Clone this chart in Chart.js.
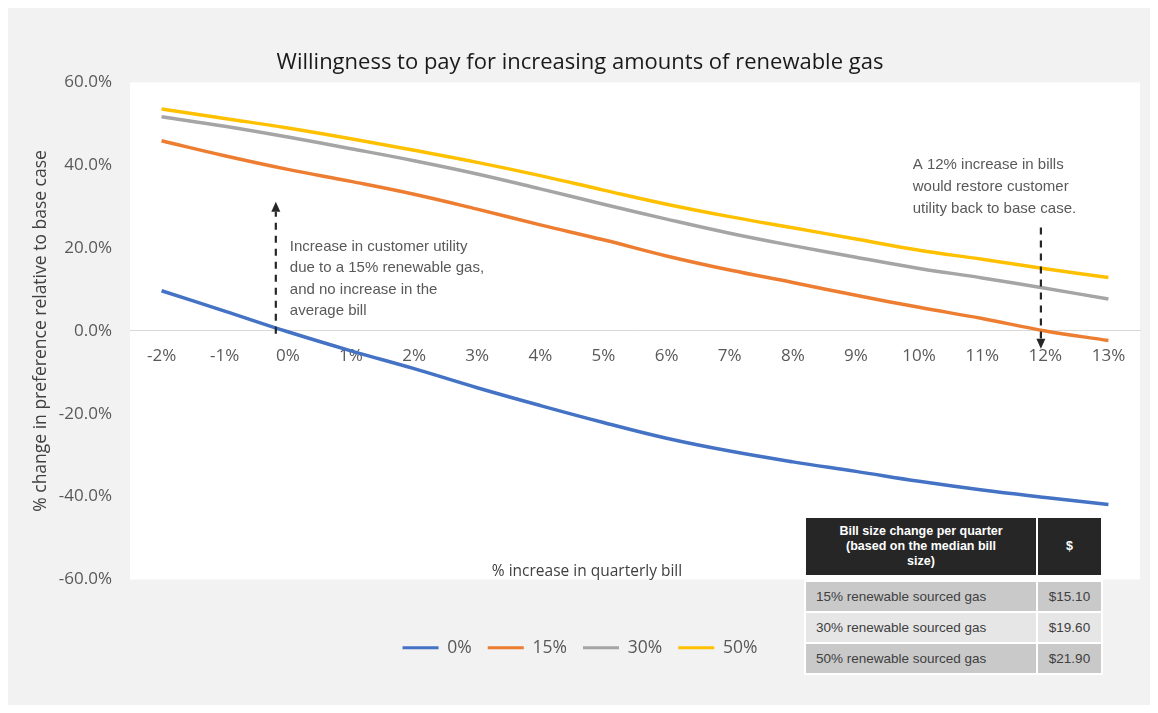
<!DOCTYPE html>
<html>
<head>
<meta charset="utf-8">
<title>Willingness to pay for renewable gas</title>
<script src="https://cdn.jsdelivr.net/npm/chart.js@4.4.1/dist/chart.umd.min.js"></script>
<style>
  html, body { margin: 0; padding: 0; background: #fff; }
  #wrap { position: relative; width: 1158px; height: 713px; }
  #chart { position: absolute; left: 0; top: 0; }
  #bill-table {
    position: absolute; left: 804px; top: 516px;
    border-collapse: separate; border-spacing: 2px; background: #fff;
    font-family: "Liberation Sans", Arial, sans-serif;
  }
  #bill-table th {
    background: #262626; color: #fff; font-weight: bold; font-size: 12.5px;
    line-height: 15px; text-align: center; height: 57px; padding: 0 8px;
  }
  #bill-table td {
    font-size: 13.5px; color: #404040; height: 29px; padding: 0;
  }
  #bill-table td.name { width: 220px; padding-left: 10px; }
  #bill-table td.cost { width: 63px; text-align: center; }
  #bill-table tr.first td { border-top: 5px solid #fff; }
  #bill-table tr.dark td { background: #c9c9c9; }
  #bill-table tr.light td { background: #e6e6e6; }
</style>
</head>
<body>
<div id="wrap">
  <canvas id="chart" width="1158" height="713"></canvas>
  <table id="bill-table">
    <thead>
      <tr><th>Bill size change per quarter<br>(based on the median bill<br>size)</th><th>$</th></tr>
    </thead>
    <tbody id="bill-rows"></tbody>
  </table>
</div>
<script>
// % increase in quarterly bill
const billIncrease = ['-2%', '-1%', '0%', '1%', '2%', '3%', '4%', '5%', '6%', '7%', '8%', '9%', '10%', '11%', '12%', '13%'];

// % change in preference relative to base case, one list per renewable share
const renew0  = [9.7, 4.8, -0.2, -4.8, -9.1, -13.7, -18.0, -22.1, -25.9, -29.0, -31.6, -33.9, -36.3, -38.4, -40.2, -41.9];
const renew15 = [45.9, 42.3, 39.0, 36.1, 33.0, 29.4, 25.6, 22.0, 18.1, 14.7, 11.7, 8.6, 5.7, 3.0, 0.0, -2.3];
const renew30 = [51.7, 49.4, 46.8, 44.0, 41.1, 37.9, 34.3, 30.6, 27.0, 23.6, 20.6, 17.8, 15.1, 12.8, 10.3, 7.7];
const renew50 = [53.6, 51.3, 49.0, 46.4, 43.6, 40.7, 37.5, 34.0, 30.6, 27.6, 24.9, 22.2, 19.5, 17.3, 15.0, 12.9];

const seriesNames = ['0%', '15%', '30%', '50%'];
const seriesColors = ['#4472c4', '#ed7d31', '#a5a5a5', '#ffc000'];

const yMin = -60;
const yMax = 60;
const yStep = 20;

// side table: bill change per quarter
const tableRows = ['15% renewable sourced gas', '30% renewable sourced gas', '50% renewable sourced gas'];
const tableCosts = ['$15.10', '$19.60', '$21.90'];

// call-outs: arrow at a fractional category index, running between two y values
const upArrow = { x: 1.81, from: -0.7, to: 31.2 };
const downArrow = { x: 13.93, from: 25.0, to: -4.3 };
const upNote = ['Increase in customer utility', 'due to a 15% renewable gas,', 'and no increase in the', 'average bill'];
const downNote = ['A 12% increase in bills', 'would restore customer', 'utility back to base case.'];

const FONT = '"Open Sans", sans-serif';
const NOTE_FONT = '15px "Liberation Sans", Arial, sans-serif';

// --- table ---
const tbody = document.getElementById('bill-rows');
tableRows.forEach((name, i) => {
    const tr = document.createElement('tr');
    tr.className = (i % 2 === 0 ? 'dark' : 'light') + (i === 0 ? ' first' : '');
    tr.innerHTML = `<td class="name">${name}</td><td class="cost">${tableCosts[i]}</td>`;
    tbody.appendChild(tr);
});

// --- drawing helpers ---
function dashedArrow(ctx, x, yFrom, yTo) {
    const dir = yTo < yFrom ? -1 : 1;
    const head = 10;
    ctx.save();
    ctx.strokeStyle = '#262626';
    ctx.fillStyle = '#262626';
    ctx.lineWidth = 2.2;
    ctx.setLineDash([7, 6]);
    ctx.beginPath();
    ctx.moveTo(x, yFrom);
    ctx.lineTo(x, yTo - dir * head);
    ctx.stroke();
    ctx.setLineDash([]);
    ctx.beginPath();
    ctx.moveTo(x, yTo);
    ctx.lineTo(x - 4.5, yTo - dir * head);
    ctx.lineTo(x + 4.5, yTo - dir * head);
    ctx.closePath();
    ctx.fill();
    ctx.restore();
}

function noteLines(ctx, lines, x, y, step) {
    ctx.save();
    ctx.font = NOTE_FONT;
    ctx.fillStyle = '#595959';
    ctx.textAlign = 'left';
    ctx.textBaseline = 'middle';
    lines.forEach((t, i) => ctx.fillText(t, x, y + i * step));
    ctx.restore();
}

const panelPlugin = {
    id: 'panel',
    beforeDraw(chart) {
        const { ctx, chartArea: a } = chart;
        ctx.save();
        ctx.fillStyle = '#f2f2f2';
        ctx.fillRect(8, 8, chart.width - 16, chart.height - 16);
        ctx.fillStyle = '#ffffff';
        ctx.fillRect(a.left, a.top, a.right - a.left, a.bottom - a.top);
        ctx.restore();
    },
    afterDatasetsDraw(chart) {
        const { ctx, chartArea: a } = chart;
        const xs = chart.scales.x;
        const ys = chart.scales.y;

        const x1 = xs.getPixelForValue(upArrow.x);
        dashedArrow(ctx, x1, ys.getPixelForValue(upArrow.from), ys.getPixelForValue(upArrow.to));
        noteLines(ctx, upNote, x1 + 14, ys.getPixelForValue(20.4), 21.5);

        const x2 = xs.getPixelForValue(downArrow.x);
        dashedArrow(ctx, x2, ys.getPixelForValue(downArrow.from), ys.getPixelForValue(downArrow.to));
        noteLines(ctx, downNote, xs.getPixelForValue(11.9), ys.getPixelForValue(40.2), 22);

        // axis title sits inside the plot, near its bottom edge
        ctx.save();
        ctx.font = '15.5px ' + FONT;
        ctx.fillStyle = '#404040';
        ctx.textAlign = 'center';
        ctx.textBaseline = 'middle';
        ctx.fillText('% increase in quarterly bill', a.left + 457, a.bottom - 8);
        ctx.restore();
    }
};

const datasets = [renew0, renew15, renew30, renew50].map((values, i) => ({
    label: seriesNames[i],
    data: values,
    borderColor: seriesColors[i],
    backgroundColor: seriesColors[i],
    borderWidth: 3.5,
    pointRadius: 0,
    tension: 0.4,
    fill: false
}));

new Chart(document.getElementById('chart'), {
    type: 'line',
    data: { labels: billIncrease, datasets },
    plugins: [panelPlugin],
    options: {
        responsive: false,
        animation: false,
        layout: { padding: { left: 20, right: 18, top: 50, bottom: 46.5 } },
        plugins: {
            title: {
                display: true,
                text: 'Willingness to pay for increasing amounts of renewable gas',
                color: '#1a1a1a',
                font: { family: FONT, size: 22, weight: 'normal' },
                padding: { top: 0, bottom: 6 }
            },
            legend: {
                position: 'bottom',
                labels: {
                    color: '#595959',
                    font: { family: FONT, size: 17.5 },
                    boxWidth: 36,
                    boxHeight: 3,
                    padding: 16,
                    generateLabels(chart) {
                        return Chart.defaults.plugins.legend.labels.generateLabels(chart)
                            .map(item => ({ ...item, lineWidth: 0 }));
                    }
                }
            },
            tooltip: { enabled: false }
        },
        scales: {
            x: {
                type: 'category',
                position: { y: 0 },
                offset: true,
                grid: { display: false, drawTicks: false },
                border: { display: true, color: '#d9d9d9', width: 1 },
                ticks: {
                    color: '#595959',
                    font: { family: FONT, size: 17 },
                    padding: 15,
                    maxRotation: 0,
                    autoSkip: false
                }
            },
            // empty band that keeps the legend clear of the plot
            gap: {
                type: 'category',
                position: 'bottom',
                grid: { display: false, drawTicks: false },
                border: { display: false },
                ticks: { display: false },
                afterFit(scale) { scale.height = 43.5; }
            },
            y: {
                min: yMin,
                max: yMax,
                grid: { display: false, drawTicks: false },
                border: { display: false },
                ticks: {
                    stepSize: yStep,
                    color: '#595959',
                    font: { family: FONT, size: 17 },
                    padding: 18,
                    callback: v => v.toFixed(1) + '%'
                },
                title: {
                    display: true,
                    text: '% change in preference relative to base case',
                    color: '#404040',
                    font: { family: FONT, size: 17.5 },
                    padding: { top: 11, bottom: 0 }
                },
                afterFit(scale) { scale.width = 110; }
            }
        }
    }
});
</script>
</body>
</html>
